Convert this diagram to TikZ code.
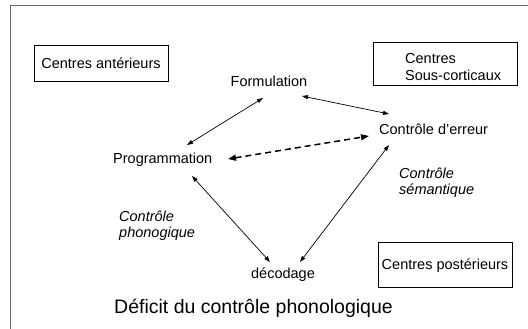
\documentclass[tikz,border=0pt]{standalone}
\usepackage{fontspec}
\setmainfont{Liberation Sans}
\usetikzlibrary{arrows.meta}
\begin{document}
\begin{tikzpicture}[x=1pt,y=-1pt,
  lbl/.style={font=\fontsize{14.5}{16.5}\selectfont, inner sep=0pt},
  ital/.style={font=\fontsize{14.5}{16.5}\selectfont\itshape, inner sep=0pt, align=left},
  boxn/.style={draw, line width=0.8pt, inner sep=0pt, font=\fontsize{14.5}{16.5}\selectfont, text height=10.4pt, text depth=0pt},
  conn/.style={line width=0.7pt, {Triangle[length=6pt,width=4pt]}-{Triangle[length=6pt,width=4pt]}},
  dconn/.style={line width=1.5pt, dash pattern=on 6pt off 4pt, {Triangle[length=8pt,width=6pt]}-{Triangle[length=8pt,width=6pt]}},
  frame/.style={draw=black!60, line width=1pt}
]
\useasboundingbox (0,0) rectangle (528,329);
\fill[white] (0,0) rectangle (528,329);
% frame
\coordinate (ftl) at (10,6);
\coordinate (ftr) at (528,6);
\coordinate (fbl) at (10,329);
\draw[frame] (ftr) -- (ftl) -- (fbl);

% boxes
\node[boxn, minimum width=134pt, minimum height=36pt] (ca) at (101,63) {Centres antérieurs};
\node[boxn, minimum width=134pt, minimum height=45pt] (cp) at (445,264.5) {Centres postérieurs};
\node[draw, line width=0.8pt, minimum width=144pt, minimum height=43pt, inner sep=0pt] (sc) at (445,63.5) {};
\node[lbl, align=left, anchor=west] (sct) at (405,67) {Centres\\Sous-corticaux};

% main labels
\node[lbl, anchor=base] (form) at (269,87) {Formulation};
\node[lbl, anchor=base west] (err) at (379,135) {Contrôle d’erreur};
\node[lbl, anchor=base west] (prog) at (113,164) {Programmation};
\node[lbl, anchor=base] (deco) at (283,278) {décodage};
\node[font=\fontsize{19.5}{22}\selectfont, inner sep=0pt, anchor=base west] (def) at (114,313) {Déficit du contrôle phonologique};

\node[ital, anchor=west] (csem) at (399,182.5) {Contrôle\\sémantique};
\node[ital, anchor=west] (cpho) at (119,225.5) {Contrôle\\phonogique};

% connectors
\draw[conn] ([shift={(74,-19)}]prog.base west) -- ([shift={(-6,11)}]form.base);
\draw[conn] ([shift={(33,9)}]form.base) -- ([shift={(10,-21)}]err.base west);
\draw[dconn] ([shift={(115,-5)}]prog.base west) -- ([shift={(-10,1)}]err.base west);
\draw[conn] ([shift={(79,12)}]prog.base west) -- ([shift={(-13,-16)}]deco.base);
\draw[conn] ([shift={(10,10)}]err.base west) -- ([shift={(17,-16)}]deco.base);
\end{tikzpicture}
\end{document}
